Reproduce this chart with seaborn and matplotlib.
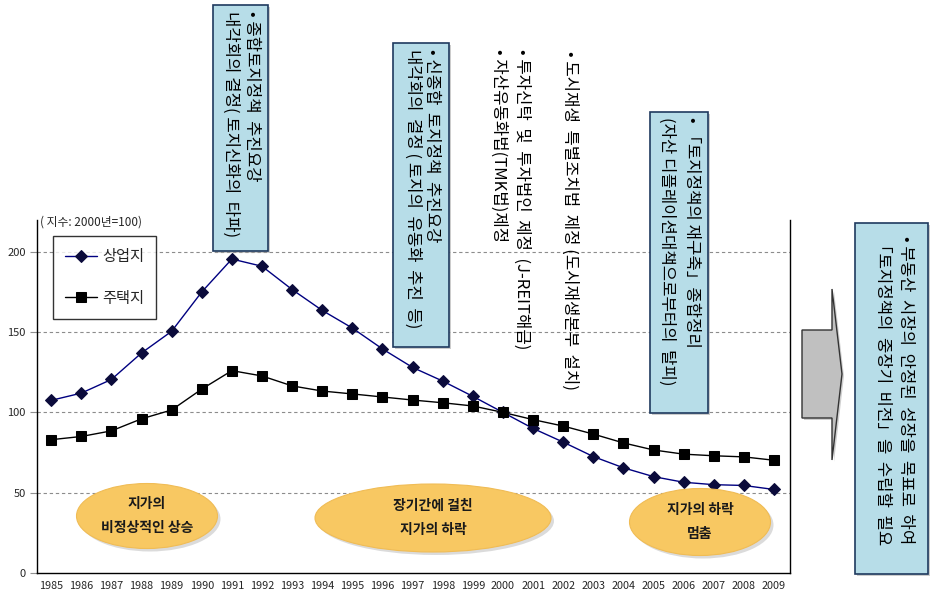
import matplotlib
matplotlib.use("Agg")
import matplotlib.pyplot as plt
from matplotlib.patches import Rectangle, Ellipse, Polygon
from matplotlib.ticker import FixedLocator
import seaborn as sns
import pandas as pd

# ---------------- data ----------------
years = [str(y) for y in range(1985, 2010)]
commercial = [107.5, 112, 120.5, 137, 150.5, 175, 195.5, 191, 176.5, 163.5, 152.5,
              139.5, 128, 119.5, 110, 100, 90, 81.5, 72.5, 65.5, 60, 56.5, 55, 54.5, 52]
residential = [83, 85, 88.5, 96, 101.5, 114.5, 126, 122.7, 116.5, 113.3, 111.5,
               109.6, 107.7, 106, 104, 100, 95.5, 91.5, 86.5, 81, 76.6, 74, 73, 72.3, 70.2]
series_names = ["상업지", "주택지"]
y_ticks = [0, 50, 100, 150, 200]
unit_label = "( 지수: 2000년=100)"

notes_boxed = [
    "• 종합토지정책  추진요강\n내각회의 결정( 토지신화의  타파)",
    "• 신종합  토지정책  추진요강\n내각회의  결정 ( 토지의  유동화  추진  등)",
    "• 「토지정책의 재구축」종합정리\n(자산 디플레이션대책으로부터의  탈피)",
]
notes_plain = [
    "• 투자신탁  및  투자법인  제정  (J-REIT해금)\n• 자산유동화법(TMK법)제정",
    "• 도시재생  특별조치법  제정 (도시재생본부  설치)",
]
conclusion = "• 부동산  시장의  안정된  성장을  목표로  하여\n「토지정책의  중장기  비전」을  수립할  필요"
phase_labels = ["지가의\n비정상적인 상승", "장기간에 걸친\n지가의 하락", "지가의 하락\n멈춤"]

# ---------------- style ----------------
sns.set_theme(style="white")
plt.rcParams["font.family"] = ["Noto Sans CJK KR", "DejaVu Sans"]

W, H = 933, 615
fig = plt.figure(figsize=(W / 100, H / 100), dpi=100)
fig.patch.set_facecolor("white")

def fx(x):
    return x / W

def fy(y):
    return 1 - y / H

ax_l, ax_r, ax_t, ax_b = 37, 790, 220, 573
ax = fig.add_axes([fx(ax_l), fy(ax_b), (ax_r - ax_l) / W, (ax_b - ax_t) / H])

df = pd.DataFrame({"idx": list(range(len(years))), "c": commercial, "r": residential})
sns.lineplot(data=df, x="idx", y="c", ax=ax, color="#000080", lw=1.0, marker="D",
             markersize=6.5, markerfacecolor="#0b0b3b", markeredgecolor="#0b0b3b",
             label=series_names[0])
sns.lineplot(data=df, x="idx", y="r", ax=ax, color="black", lw=1.0, marker="s",
             markersize=7.5, markerfacecolor="black", markeredgecolor="black",
             label=series_names[1])

ax.set_xlim(-0.47, 24.53)
ax.set_ylim(0, 219.8)
ax.set_xlabel("")
ax.set_ylabel("")
ax.set_xticks(range(len(years)))
ax.set_xticklabels(years, fontsize=7.8)
ax.xaxis.set_minor_locator(FixedLocator([i + 0.5 for i in range(len(years) - 1)]))
ax.tick_params(axis="x", which="major", length=0, pad=6)
ax.tick_params(axis="x", which="minor", length=3.5, direction="in", color="black", width=0.8)
ax.set_yticks(y_ticks)
ax.set_yticklabels([str(v) for v in y_ticks], fontsize=8)
ax.tick_params(axis="y", which="major", length=5, color="#909090", width=0.8, pad=3, left=True)
for v in y_ticks[1:]:
    ax.axhline(v, color="#8c8c8c", lw=0.8, ls=(0, (3, 2.5)), zorder=0)

for side in ["left", "bottom", "right"]:
    ax.spines[side].set_visible(True)
    ax.spines[side].set_color("black")
    ax.spines[side].set_linewidth(1.0)
ax.spines["top"].set_visible(False)

leg = ax.legend(loc="upper left", bbox_to_anchor=((53 - ax_l) / (ax_r - ax_l), (ax_b - 236) / (ax_b - ax_t)),
                borderaxespad=0, frameon=True, fancybox=False, fontsize=11,
                labelspacing=1.6, handlelength=2.1, handletextpad=0.3, borderpad=0.8)
leg.get_frame().set_edgecolor("black")
leg.get_frame().set_linewidth(1.0)

fig.text(fx(40), fy(222), unit_label, fontsize=8.5, ha="left", va="center",
         bbox=dict(facecolor="white", edgecolor="none", pad=0.5), zorder=5)

# ---------------- annotation boxes ----------------
box_fc = "#b7dde8"
box_ec = "#1f3a5f"

def add_box(x0, y0, x1, y1):
    sh = Rectangle((fx(x0 + 2), fy(y1 + 2)), (x1 - x0) / W, (y1 - y0) / H,
                   transform=fig.transFigure, facecolor="#9a9a9a", edgecolor="none",
                   alpha=0.5, zorder=3)
    fig.add_artist(sh)
    r = Rectangle((fx(x0), fy(y1)), (x1 - x0) / W, (y1 - y0) / H,
                  transform=fig.transFigure, facecolor=box_fc, edgecolor=box_ec,
                  lw=1.2, zorder=4)
    fig.add_artist(r)

def vtext(xc, ytop, s, ls, fs=12):
    fig.text(fx(xc), fy(ytop), s, rotation=270, ha="center", va="top",
             multialignment="left", fontsize=fs, linespacing=ls, zorder=6,
             color="black")

add_box(213, 5, 268, 251)
vtext(241, 11, notes_boxed[0], 1.22)

add_box(393, 43, 449, 347)
vtext(422, 49, notes_boxed[1], 1.18)

add_box(650, 112, 708, 413)
vtext(679, 117, notes_boxed[2], 1.55)

vtext(510, 49, notes_plain[0], 1.45)
vtext(570, 51, notes_plain[1], 1.2)

# arrow
arrow_pts = [(802, 330), (832, 330), (832, 289), (842, 374), (832, 460), (832, 418), (802, 418)]
fig.add_artist(Polygon([(fx(x + 2), fy(y + 2)) for x, y in arrow_pts], closed=True,
                       transform=fig.transFigure, facecolor="#a0a0a0", edgecolor="none",
                       alpha=0.5, zorder=3))
fig.add_artist(Polygon([(fx(x), fy(y)) for x, y in arrow_pts], closed=True,
                       transform=fig.transFigure, facecolor="#c0c0c0", edgecolor="#333333",
                       lw=1.0, zorder=4))

add_box(855, 223, 928, 574)
vtext(894, 236, conclusion, 1.4)

# ---------------- phase ellipses ----------------
ellipses = [(147, 516, 141, 65), (433, 518, 236, 68), (700, 522, 141, 67)]
for (cx, cy, w, h), lab in zip(ellipses, phase_labels):
    fig.add_artist(Ellipse((fx(cx + 3), fy(cy + 3)), w / W, h / H, transform=fig.transFigure,
                           facecolor="#b0b0b0", edgecolor="none", alpha=0.45, zorder=3))
    fig.add_artist(Ellipse((fx(cx), fy(cy)), w / W, h / H, transform=fig.transFigure,
                           facecolor="#f8c862", edgecolor="#f0bc55", lw=0.8, zorder=4))
    fig.text(fx(cx), fy(cy), lab, ha="center", va="center", fontsize=10,
             linespacing=1.9, fontweight="bold", color="#1a1a1a", zorder=6)

fig.savefig("out.png", dpi=100)
